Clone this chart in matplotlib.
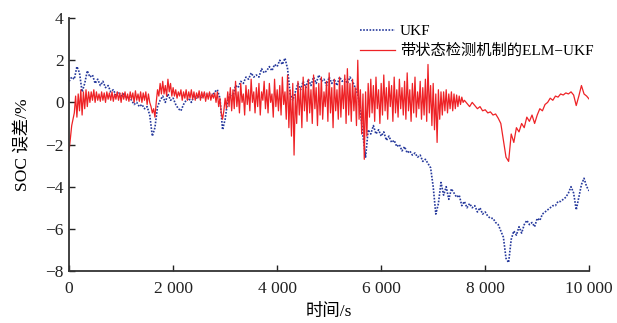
import numpy as np
import matplotlib
matplotlib.use("Agg")
import matplotlib.pyplot as plt

# Datos (tiempo en s, error SOC en %)
ukf_paso = 50
ukf_err = [
    1.0, 1.2, 1.1, 1.7, 1.4, 0.5, 0.9, 1.5, 1.2, 1.3,
    0.9, 1.1, 0.8, 1.0, 0.7, 0.8, 0.5, 0.6, 0.35, 0.5,
    0.3, 0.4, 0.2, 0.3, 0.1, -0.1, 0.0, -0.2, -0.1, -0.3,
    -0.2, -0.6, -1.6, -1.2, -0.2, 0.1, 0.3, 0.0, 0.4, 0.1,
    0.2, -0.1, -0.3, -0.4, -0.1, 0.1, 0.2, 0.0, 0.3, 0.2,
    0.3, 0.2, 0.4, 0.3, 0.4, 0.3, 0.5, 0.6, 0.2, -1.3,
    -0.8, 0.1, 0.4, 0.3, 0.8, 0.7, 1.0, 0.9, 1.2, 1.1,
    1.4, 1.2, 1.3, 1.2, 1.6, 1.4, 1.5, 1.7, 1.5, 1.8,
    1.7, 2.0, 1.8, 2.1, 1.6, 0.4, 0.1, 0.5, 0.9, 0.6,
    1.0, 0.7, 1.1, 0.8, 1.2, 0.9, 1.3, 1.0, 1.1, 0.8,
    1.2, 0.9, 1.1, 0.8, 1.2, 1.0, 1.1, 0.9, 1.2, 1.0,
    0.7, 0.4, -0.4, -1.6, -2.6, -1.3, -1.5, -1.1, -1.5, -1.3,
    -1.6, -1.4, -1.8, -1.6, -1.9, -1.8, -2.1, -2.0, -2.3, -2.1,
    -2.4, -2.3, -2.5, -2.4, -2.6, -2.5, -2.8, -2.7, -2.9, -3.1,
    -4.0, -5.3, -4.8, -3.8, -4.4, -4.0, -4.6, -4.1, -4.3, -4.5,
    -4.4, -4.9, -4.7, -5.0, -4.8, -5.0, -4.9, -5.2, -5.0, -5.3,
    -5.2, -5.4, -5.5, -5.5, -5.7, -5.8, -6.1, -6.4, -7.4, -7.6,
    -6.5, -6.1, -6.3, -5.9, -6.2, -5.8, -5.6, -5.8, -5.7, -5.9,
    -5.5, -5.6, -5.3, -5.2, -5.1, -5.0, -4.9, -4.9, -4.7, -4.7,
    -4.6, -4.5, -4.3, -4.0, -4.3, -5.1, -4.5, -3.9, -3.6, -4.0,
    -4.2,
]

# ELM-UKF: tramo ruidoso (paso 25 s, 0-7575 s) y tramo suave (paso 50 s, 7600-10000 s)
elm_paso_ruido = 25
elm_err_ruido = [
    -2.3, -1.7, -1.1, -0.8, -0.5, 0.3, -0.7, 0.4,
    -0.4, 0.6, -0.6, 0.5, -0.3, 0.6, -0.2, 0.5,
    0.0, 0.5, 0.1, 0.6, 0.0, 0.5, 0.1, 0.4,
    0.05, 0.5, 0.1, 0.45, 0.0, 0.5, 0.15, 0.45,
    0.1, 0.5, 0.05, 0.4, 0.15, 0.5, 0.1, 0.45,
    0.0, 0.45, 0.15, 0.5, 0.1, 0.4, 0.05, 0.5,
    0.15, 0.45, 0.0, 0.55, 0.1, 0.4, 0.05, 0.5,
    0.0, 0.45, 0.1, 0.5, -0.1, 0.4, 0.0, -0.2,
    -0.5, -0.3, -0.7, 0.0, 0.6, 0.3, 0.9, 0.4,
    1.0, 0.4, 0.8, 0.3, 1.1, 0.5, 0.9, 0.3,
    0.7, 0.3, 0.6, 0.2, 0.5, 0.3, 0.6, 0.1,
    0.5, 0.2, 0.6, 0.1, 0.5, 0.2, 0.6, 0.15,
    0.5, 0.1, 0.45, 0.2, 0.55, 0.1, 0.5, 0.2,
    0.5, 0.05, 0.45, 0.15, 0.5, 0.1, 0.4, 0.2,
    0.45, 0.0, 0.5, -0.2, 0.2, -0.5, -0.8, -0.4,
    0.2, -0.3, 0.5, -0.2, 0.7, -0.4, 0.6, -0.3,
    1.0, -0.2, 0.5, -0.5, 0.9, 0.0, 0.4, -0.6,
    0.8, -0.1, 0.6, -0.4, 1.1, 0.0, 0.5, -0.5,
    0.7, -0.2, 0.9, -0.6, 0.5, 0.1, 1.0, -0.3,
    0.6, -0.5, 0.9, 0.0, 0.4, -0.7, 1.1, -0.2,
    0.6, -0.4, 0.8, -0.6, 1.2, -0.1, 0.5, -0.8,
    1.3, -1.2, 0.6, -1.6, 0.9, -2.5, 0.4, -1.0,
    1.0, -0.6, 0.7, -1.2, 1.2, -0.4, 0.8, -0.9,
    1.1, -0.5, 0.6, -1.0, 1.3, -0.3, 0.7, -1.1,
    0.9, -0.6, 1.2, -0.8, 0.5, -0.2, 1.0, -0.9,
    1.4, -0.5, 0.7, -1.2, 1.1, -0.4, 0.6, -0.8,
    1.2, -0.7, 0.8, -0.3, 1.3, -1.0, 1.6, -0.6,
    0.9, -0.9, 1.1, -0.4, 0.7, -1.1, 2.0, -0.8,
    0.6, -1.5, 0.4, -2.7, 0.5, -1.6, 0.9, -0.7,
    1.1, -0.5, 0.8, -0.9, 1.2, -0.3, 0.6, -1.0,
    0.9, -0.6, 1.3, -0.4, 0.7, -0.8, 1.0, -0.2,
    0.8, -0.9, 1.2, -0.5, 0.6, -0.7, 1.1, -0.3,
    0.7, -0.6, 1.0, -0.8, 1.4, -0.4, 0.6, -0.9,
    0.9, -0.5, 1.2, -0.7, 0.5, -0.3, 1.0, -0.8,
    0.7, -0.6, 1.1, -0.9, 1.8, -0.5, 0.8, -1.1,
    0.9, -1.3, 0.4, -1.9, 0.6, -0.8, 0.5, -0.6,
    0.5, -0.4, 0.6, -0.5, 0.4, -0.3, 0.5, -0.4,
    0.4, -0.3, 0.35, -0.2, 0.3, -0.1, 0.25, 0.0,
]
elm_inicio_suave = 7600
elm_paso_suave = 50
elm_err_suave = [
    0.1, -0.05, -0.2, 0.0, -0.15, -0.3, -0.2, -0.4, -0.35, -0.5,
    -0.45, -0.6, -0.55, -0.75, -1.0, -1.8, -2.6, -2.8, -1.5, -1.9,
    -1.2, -1.4, -1.0, -1.2, -0.7, -0.9, -0.6, -1.0, -0.6, -0.3,
    -0.4, -0.1, 0.0, 0.2, 0.1, 0.3, 0.25, 0.4, 0.35, 0.45,
    0.4, 0.5, 0.35, -0.15, 0.3, 0.8, 0.4, 0.3, 0.15,
]

xticks = [0, 2000, 4000, 6000, 8000, 10000]
xtick_labels = ["0", "2 000", "4 000", "6 000", "8 000", "10 000"]
yticks = [-8, -6, -4, -2, 0, 2, 4]
ytick_labels = ["\u22128", "\u22126", "\u22124", "\u22122", "0", "2", "4"]

plt.rcParams['font.family'] = ['Liberation Serif', 'Noto Sans CJK SC']
plt.rcParams['axes.unicode_minus'] = True

t_ukf = np.arange(len(ukf_err)) * ukf_paso
t_elm = np.concatenate([
    np.arange(len(elm_err_ruido)) * elm_paso_ruido,
    elm_inicio_suave + np.arange(len(elm_err_suave)) * elm_paso_suave,
])
v_elm = np.array(elm_err_ruido + elm_err_suave)

fig = plt.figure(figsize=(6.17, 3.23), dpi=100)
ax = fig.add_axes([0.112, 0.161, 0.843, 0.783])

ax.plot(t_ukf, ukf_err, linestyle=(0, (1.0, 0.9)), linewidth=1.2,
        color='#26399c', label="UKF")
ax.plot(t_elm, v_elm, linestyle='-', linewidth=0.9, color='#ee2226',
        label="带状态检测机制的ELM\u2212UKF")

ax.set_xlim(0, 10000)
ax.set_ylim(-8, 4)
ax.set_xticks(xticks)
ax.set_xticklabels(xtick_labels)
ax.set_yticks(yticks)
ax.set_yticklabels(ytick_labels)
ax.tick_params(direction='in', length=4, width=1.0, labelsize=12.5,
               colors='#222222', pad=4)
ax.tick_params(axis='x', pad=7)

for lado in ['top', 'right']:
    ax.spines[lado].set_visible(False)
for lado in ['left', 'bottom']:
    ax.spines[lado].set_linewidth(1.3)
    ax.spines[lado].set_color('#333333')

ax.set_xlabel("时间/s", fontsize=12.5, labelpad=5)
ax.set_ylabel("SOC 误差/%", fontsize=12.5, labelpad=10)

ax.legend(loc='upper left', bbox_to_anchor=(0.548, 1.0), frameon=False,
          fontsize=11, handlelength=2.3, handletextpad=0.3,
          labelspacing=0.4, borderaxespad=0.0)

fig.savefig("out.png", dpi=100)
